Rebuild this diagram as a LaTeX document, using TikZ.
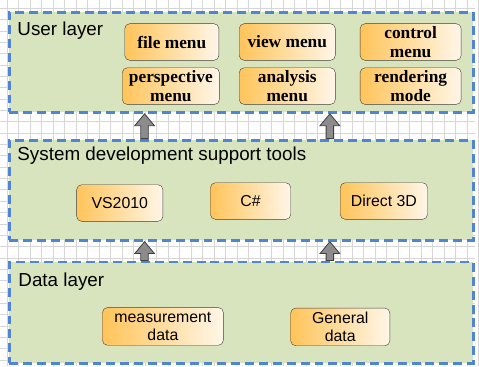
\documentclass[tikz,border=0pt]{standalone}
\usepackage{fontspec}
\usepackage{tikz}
\usetikzlibrary{calc}
\usetikzlibrary{positioning}
\newfontfamily\arialfont{Liberation Sans}
\newfontfamily\timesfont{Liberation Serif}
\definecolor{layergreen}{RGB}{215,228,189}
\definecolor{layerblue}{RGB}{79,133,210}
\definecolor{boxorange}{RGB}{255,196,90}
\definecolor{boxlight}{RGB}{255,246,232}
\definecolor{boxline}{RGB}{64,64,64}
\definecolor{arrowgray}{RGB}{140,140,140}
\definecolor{gridgray}{RGB}{214,214,214}
\newcommand\layerarrow[2]{%
  \draw[blockarrow] ($(#1)+(-3.8,0)$) -- ($(#2)+(-3.8,12)$) -- ($(#2)+(-10,12)$)
    -- (#2) -- ($(#2)+(10,12)$) -- ($(#2)+(3.8,12)$) -- ($(#1)+(3.8,0)$) -- cycle;}

\begin{document}
\begin{tikzpicture}[x=1pt, y=-1pt,
    layer/.style={draw=layerblue, fill=layergreen, line width=3pt,
                  dash pattern=on 9pt off 5pt, minimum width=468pt, inner sep=0pt},
    title/.style={anchor=base west, inner sep=0pt, font=\arialfont\fontsize{19}{22}\selectfont},
    menubox/.style={draw=boxline, rounded corners=5pt, left color=boxorange, right color=boxlight,
                    minimum height=37pt, inner sep=0pt, align=center,
                    font=\timesfont\bfseries\fontsize{17.5}{20}\selectfont},
    toolbox/.style={menubox, font=\arialfont\fontsize{16}{18}\selectfont},
    blockarrow/.style={draw=boxline, fill=arrowgray, line width=0.8pt}]
      \fill[white] (0,0) rectangle (479,369);
      \foreach \gx in {0,...,41} \draw[gridgray, line width=0.8pt] (7+11.6*\gx,0) -- (7+11.6*\gx,369);
      \foreach \gy in {0,...,31} \draw[gridgray, line width=0.8pt] (0,8+11.45*\gy) -- (479,8+11.45*\gy);

      % layers
      \node[layer, minimum height=101pt] (user) at (243,62.5)  {};
      \node[layer, minimum height=101pt] (sys)  at (243,191.5) {};
      \node[layer, minimum height=102pt] (data) at (243,315)   {};
      \node[title] (usertitle) at (17,35)  {User layer};
      \node[title] (systitle)  at (17,162) {System development support tools};
      \node[title] (datatitle) at (18,289) {Data layer};

      % user layer
      \node[menubox, minimum width=95pt]  (file)   at (173,42)     {file menu};
      \node[menubox, minimum width=98pt]  (persp)  at (172,86.5)   {perspective\\menu};
      \node[menubox, minimum width=97pt]  (view)   at (289.5,42)   {view menu};
      \node[menubox, minimum width=97pt]  (anal)   at (289.5,86.5) {analysis\\menu};
      \node[menubox, minimum width=102pt] (ctrl)   at (414,42)     {control\\menu};
      \node[menubox, minimum width=102pt] (render) at (414,86.5)   {rendering\\mode};

      % system development support tools
      \node[toolbox, minimum width=87pt] (vs)     at (120.5,204.5) {VS2010};
      \node[toolbox, minimum width=81pt] (csharp) at (252.5,202.5) {C\#};
      \node[toolbox, minimum width=88pt] (dx)     at (387,202.5)   {Direct 3D};

      % data layer
      \node[toolbox, minimum width=122pt, minimum height=38pt] (meas) at (164,329)   {measurement\\data};
      \node[toolbox, minimum width=100pt, minimum height=38pt] (gen)  at (343,329.5) {General\\data};

      % arrows between layers
      \coordinate (ua) at (145.5,0);
      \coordinate (ub) at (332.5,0);
      \coordinate (a1tail) at (sys.north -| ua);  \coordinate (a1tip) at (user.south -| ua);
      \coordinate (a2tail) at (sys.north -| ub);  \coordinate (a2tip) at (user.south -| ub);
      \coordinate (a3tail) at (data.north -| ua); \coordinate (a3tip) at (sys.south -| ua);
      \coordinate (a4tail) at (data.north -| ub); \coordinate (a4tip) at (sys.south -| ub);
      \layerarrow{a1tail}{a1tip}
      \layerarrow{a2tail}{a2tip}
      \layerarrow{a3tail}{a3tip}
      \layerarrow{a4tail}{a4tip}
\end{tikzpicture}
\end{document}
